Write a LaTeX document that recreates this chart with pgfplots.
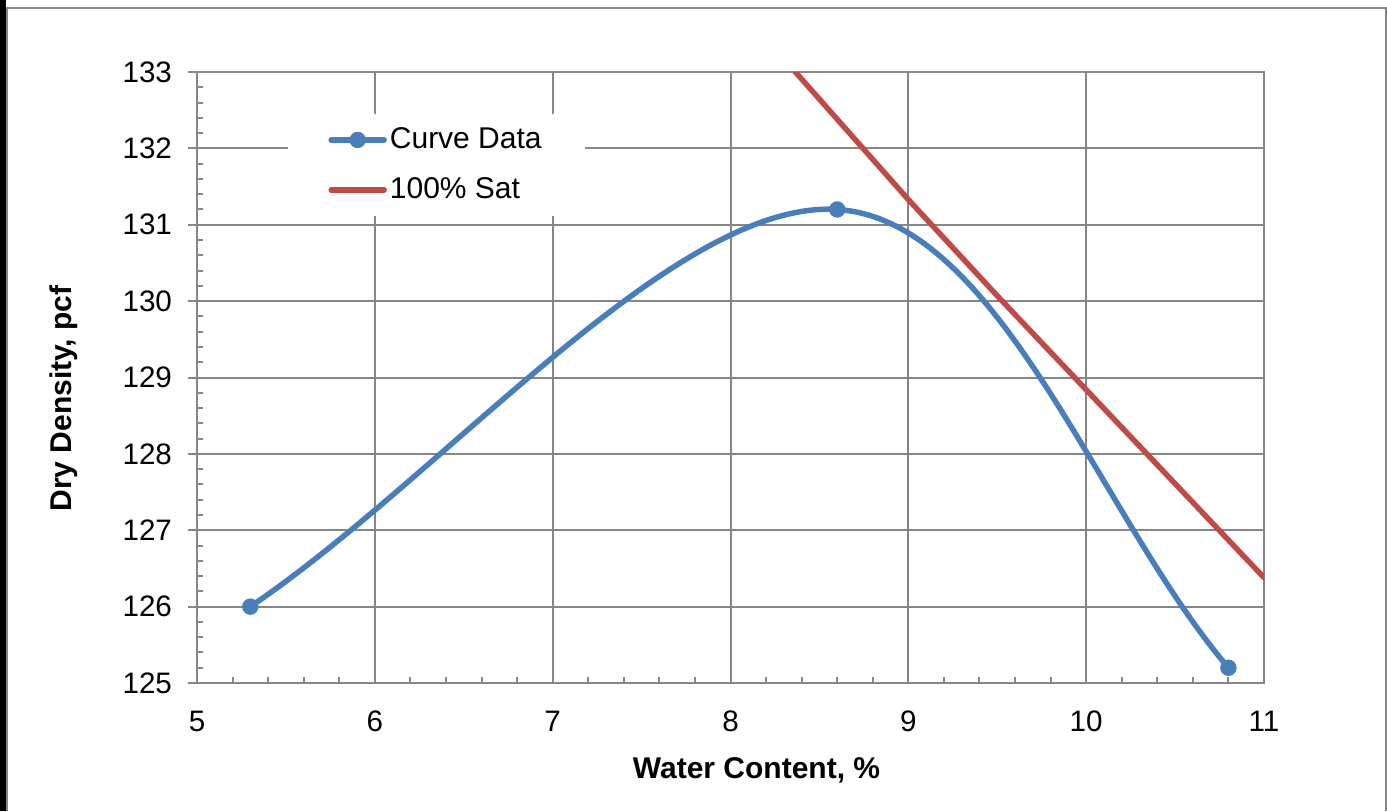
\documentclass[border=0pt]{standalone}
\usepackage{fontspec}
\setmainfont{Liberation Sans}
\usepackage{pgfplots}
\pgfplotsset{compat=1.18}

\definecolor{xlblue}{RGB}{74,126,187}
\definecolor{xlred}{RGB}{190,75,72}
\definecolor{xlgray}{RGB}{134,134,134}
\newcommand\fs{\fontsize{15}{18}\selectfont}
\newcommand\fst{\fontsize{14.8}{17.5}\selectfont}

% spreadsheet-style smoothing: end tangents along the chord (1/3),
% inner tangents (next - previous)/6
\makeatletter
\def\pgfplothandlerexcelcurve{%
  \def\pgf@plotstreamstart{%
    \global\let\pgf@plotstreampoint=\xl@initial
    \global\let\pgf@plotstreamspecial=\pgfutil@gobble
    \global\let\pgf@plotstreamend=\relax
  }%
}
\def\xl@initial#1{%
  \pgf@plot@first@action{#1}%
  \pgf@process{#1}%
  \xdef\xl@first{\noexpand\pgfqpoint{\the\pgf@x}{\the\pgf@y}}%
  \global\let\pgf@plotstreampoint=\xl@second
}
\def\xl@second#1{%
  \pgf@process{#1}%
  \xdef\xl@sec{\noexpand\pgfqpoint{\the\pgf@x}{\the\pgf@y}}%
  \pgf@xa=\pgf@x \pgf@ya=\pgf@y
  \pgf@process{\xl@first}%
  \pgf@xb=\pgf@x \pgf@yb=\pgf@y
  \advance\pgf@xa by -\pgf@xb \advance\pgf@ya by -\pgf@yb
  \pgf@xa=0.333333\pgf@xa \pgf@ya=0.333333\pgf@ya
  \advance\pgf@xb by \pgf@xa \advance\pgf@yb by \pgf@ya
  \xdef\xl@firstsupport{\noexpand\pgfqpoint{\the\pgf@xb}{\the\pgf@yb}}%
  \global\let\pgf@plotstreampoint=\xl@other
  \global\let\pgf@plotstreamend=\xl@finish
}
\def\xl@other#1{%
  \pgf@process{#1}%
  \xdef\xl@cur{\noexpand\pgfqpoint{\the\pgf@x}{\the\pgf@y}}%
  \pgf@xa=\pgf@x \pgf@ya=\pgf@y
  \pgf@process{\xl@first}%
  \advance\pgf@xa by -\pgf@x \advance\pgf@ya by -\pgf@y
  \pgf@xa=0.166667\pgf@xa \pgf@ya=0.166667\pgf@ya
  \pgf@process{\xl@sec}%
  \pgf@xb=\pgf@x \pgf@yb=\pgf@y
  \pgf@xc=\pgf@x \pgf@yc=\pgf@y
  \advance\pgf@xb by -\pgf@xa \advance\pgf@yb by -\pgf@ya
  \advance\pgf@xc by \pgf@xa \advance\pgf@yc by \pgf@ya
  \edef\pgf@marshal{\noexpand\pgfpathcurveto{\noexpand\xl@firstsupport}%
    {\noexpand\pgfqpoint{\the\pgf@xb}{\the\pgf@yb}}{\noexpand\xl@sec}}%
  {\pgf@marshal}%
  \global\let\xl@first=\xl@sec
  \global\let\xl@sec=\xl@cur
  \xdef\xl@firstsupport{\noexpand\pgfqpoint{\the\pgf@xc}{\the\pgf@yc}}%
}
\def\xl@finish{%
  \pgf@process{\xl@first}%
  \pgf@xa=\pgf@x \pgf@ya=\pgf@y
  \pgf@process{\xl@sec}%
  \advance\pgf@xa by -\pgf@x \advance\pgf@ya by -\pgf@y
  \pgf@xa=0.333333\pgf@xa \pgf@ya=0.333333\pgf@ya
  \advance\pgf@xa by \pgf@x \advance\pgf@ya by \pgf@y
  \edef\pgf@marshal{\noexpand\pgfpathcurveto{\noexpand\xl@firstsupport}%
    {\noexpand\pgfqpoint{\the\pgf@xa}{\the\pgf@ya}}{\noexpand\xl@sec}}%
  {\pgf@marshal}%
}
\tikzset{excel smooth/.code={\let\tikz@plot@handler=\pgfplothandlerexcelcurve}}
\makeatother

\begin{document}
\begin{tikzpicture}
\path[use as bounding box] (0,0) rectangle (693.5pt,405.5pt);

\begin{axis}[
  at={(98.5pt,64pt)}, anchor=south west,
  scale only axis, width=533.5pt, height=305.5pt,
  xmin=5, xmax=11, ymin=125, ymax=133,
  xtick={5,...,11}, ytick={125,...,133},
  minor tick num=4,
  tick pos=left, tick align=outside,
  major tick length=4.5pt, minor tick length=3pt,
  every tick/.style={xlgray, line width=1pt},
  major x tick style={draw=none},
  minor x tick style={yshift=3pt},
  minor y tick style={xshift=3pt},
  axis line style={xlgray, line width=1.2pt},
  grid=major, major grid style={xlgray, line width=1pt},
  /pgf/number format/assume math mode=true,
  ticklabel style={font=\fst, black},
  xticklabel style={yshift=-6pt},
  yticklabel style={xshift=-4.5pt},
  xlabel={Water Content, \%},
  ylabel={Dry Density, pcf},
  label style={font=\fs\bfseries},
  xlabel style={at={([yshift=-47.5pt]axis description cs:0.5244,0)}, anchor=base},
  ylabel style={at={([xshift=-62.5pt]axis description cs:0,0.4656)}, anchor=base},
  legend style={at={(rel axis cs:0.0853,0.932)}, anchor=north west,
    draw=none, fill=white, inner xsep=20pt, inner ysep=5.5pt,
    row sep=10pt, font=\fs, nodes={inner sep=1.5pt}},
  legend cell align=left,
  legend image code/.code={\draw[mark repeat=2,mark phase=2]
    plot coordinates {(0pt,0pt) (13.25pt,0pt) (26.5pt,0pt)};},
]
\addplot[xlblue, line width=2.75pt, line cap=round, line join=round, excel smooth,
  mark=*, mark size=3.9pt, mark options={fill=xlblue, draw=xlblue, line width=0.4pt}]
  coordinates {(5.3,126.0) (8.6,131.2) (10.8,125.2)};
\addlegendentry{Curve Data}
\addplot[xlred, line width=2.75pt, line cap=round, line join=round, no markers]
  coordinates {(8.365,133) (9.0,131.33) (9.5,130.07) (10.0,128.84) (11,126.38)};
\addlegendentry{100\% Sat}
\end{axis}

\fill[black] (0,0) rectangle (3pt,405.5pt);
\draw[xlgray, line width=1pt] (3.6pt,0) -- (3.6pt,401.6pt) -- (693pt,401.6pt) -- (693pt,0);
\end{tikzpicture}
\end{document}
